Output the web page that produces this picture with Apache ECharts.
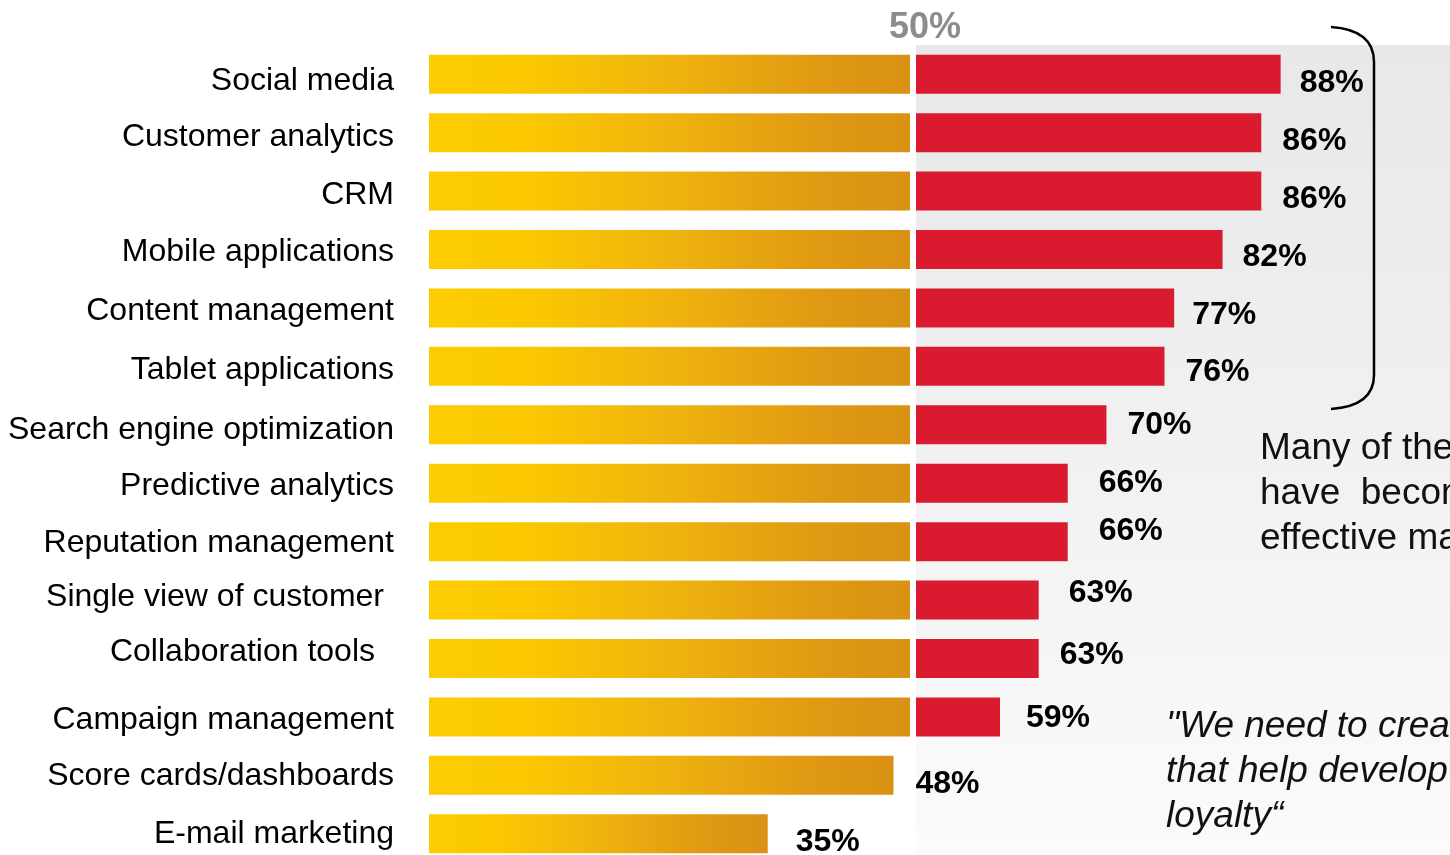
<!DOCTYPE html>
<html>
<head>
<meta charset="utf-8">
<title>Technology effectiveness</title>
<script src="https://cdn.jsdelivr.net/npm/echarts@6/dist/echarts.min.js"></script>
<style>
  html, body { margin: 0; padding: 0; background: #ffffff; }
  #chart { width: 1450px; height: 855px; }
</style>
</head>
<body>
<div id="chart"></div>
<script>
// Share of respondents rating each technology as effective (%)
const categories = [
  'Social media', 'Customer analytics', 'CRM', 'Mobile applications',
  'Content management', 'Tablet applications', 'Search engine optimization',
  'Predictive analytics', 'Reputation management', 'Single view of customer',
  'Collaboration tools', 'Campaign management', 'Score cards/dashboards',
  'E-mail marketing'
];
const shares = [88, 86, 86, 82, 77, 76, 70, 66, 66, 63, 63, 59, 48, 35];
const threshold = 50;
const thresholdLabel = '50%';

const noteLines = ['Many of these tools', 'have  become the most', 'effective marketing channels'];
const quoteLines = ['"We need to create solutions', 'that help develop customer', 'loyalty\u201c'];

// Hand-placed label nudges [dx, dy] in pixels
const categoryLabelNudge = [[0, 7], [0, 5], [0, 4], [0, 3], [0, 3], [0, 4], [0, 5],
  [0, 3], [0, 2], [-10, -3], [-19, -6], [0, 3], [0, 1], [0, 0]];
const valueLabelNudge = [[19, 9], [21, 9], [21, 8], [20, 8], [18, 7], [21, 6], [21, 0],
  [31, 0], [31, -10], [30, -7], [21, -3], [26, 1], [22, 9], [28, 8]];

const FONT = '"Liberation Sans", Arial, Helvetica, sans-serif';

const chart = echarts.init(document.getElementById('chart'), null, { renderer: 'canvas' });

const yellowGradient = new echarts.graphic.LinearGradient(0, 0, 1, 0, [
  { offset: 0, color: '#fdcc00' },
  { offset: 0.2, color: '#fbc800' },
  { offset: 0.5, color: '#efb30e' },
  { offset: 0.8, color: '#e09a12' },
  { offset: 1, color: '#d99114' }
]);
const panelGradient = new echarts.graphic.LinearGradient(0, 0, 0, 1, [
  { offset: 0, color: '#e8e8e8' },
  { offset: 0.5, color: '#f1f1f1' },
  { offset: 1, color: '#fbfbfb' }
]);

const option = {
  animation: false,
  backgroundColor: '#ffffff',
  grid: {
    left: 429, right: 0, top: 45, height: 818,
    containLabel: false, outerBoundsMode: 'none'
  },
  xAxis: {
    type: 'value', min: 0, max: 105.5,
    show: false, splitLine: { show: false }
  },
  yAxis: {
    type: 'category', data: categories, inverse: true,
    show: false
  },
  series: [
    {
      name: 'Up to threshold',
      type: 'bar',
      stack: 'total',
      barWidth: 39,
      z: 2,
      itemStyle: { color: yellowGradient },
      data: shares.map((v, i) => ({
        value: Math.min(v, threshold),
        label: { offset: [categoryLabelNudge[i][0], categoryLabelNudge[i][1]] }
      })),
      label: {
        show: true,
        position: 'left',
        distance: 35,
        align: 'right',
        verticalAlign: 'middle',
        fontFamily: FONT,
        fontSize: 32,
        color: '#000000',
        formatter: p => categories[p.dataIndex]
      },
      markArea: {
        silent: true,
        z: 1,
        itemStyle: { color: panelGradient, borderWidth: 0 },
        data: [[{ xAxis: threshold + 0.2 }, { xAxis: 105.5 }]]
      },
      markLine: {
        silent: true,
        symbol: ['none', 'none'],
        label: { show: false },
        lineStyle: { color: '#ffffff', width: 6, type: 'solid' },
        data: [{ xAxis: threshold }]
      }
    },
    {
      name: 'Above threshold',
      type: 'bar',
      stack: 'total',
      barWidth: 39,
      z: 3,
      itemStyle: { color: '#da1a2f' },
      data: shares.map((v, i) => ({
        value: v > threshold ? v - threshold : 0,
        label: { offset: [valueLabelNudge[i][0], valueLabelNudge[i][1]] }
      })),
      label: {
        show: true,
        position: 'right',
        distance: 0,
        verticalAlign: 'middle',
        fontFamily: FONT,
        fontSize: 32,
        fontWeight: 'bold',
        color: '#000000',
        formatter: p => shares[p.dataIndex] + '%'
      }
    }
  ],
  graphic: [
    {
      type: 'text', z: 10,
      style: {
        text: thresholdLabel, x: 925, y: 28,
        align: 'center', verticalAlign: 'middle',
        textAlign: 'center', textVerticalAlign: 'middle',
        font: 'bold 36px ' + FONT, fill: '#8c8c8c'
      }
    },
    // curly bracket grouping the top six technologies
    {
      type: 'bezierCurve', z: 10,
      shape: { x1: 1331, y1: 27, cpx1: 1362, cpy1: 29, cpx2: 1374, cpy2: 42, x2: 1374, y2: 62 },
      style: { stroke: '#000000', lineWidth: 2.5, fill: null }
    },
    {
      type: 'line', z: 10,
      shape: { x1: 1374, y1: 62, x2: 1374, y2: 375 },
      style: { stroke: '#000000', lineWidth: 2.5 }
    },
    {
      type: 'bezierCurve', z: 10,
      shape: { x1: 1374, y1: 375, cpx1: 1374, cpy1: 396, cpx2: 1360, cpy2: 407, x2: 1331, y2: 409 },
      style: { stroke: '#000000', lineWidth: 2.5, fill: null }
    },
    {
      type: 'text', z: 10,
      style: {
        text: noteLines.join('\n'), x: 1260, y: 426.5,
        align: 'left', verticalAlign: 'top',
        textAlign: 'left', textVerticalAlign: 'top',
        font: '37px ' + FONT, lineHeight: 45, fill: '#111111'
      }
    },
    {
      type: 'text', z: 10,
      style: {
        text: quoteLines.join('\n'), x: 1166, y: 704,
        align: 'left', verticalAlign: 'top',
        textAlign: 'left', textVerticalAlign: 'top',
        font: 'italic 37px ' + FONT, lineHeight: 45, fill: '#111111'
      }
    }
  ]
};

chart.setOption(option);
</script>
</body>
</html>
